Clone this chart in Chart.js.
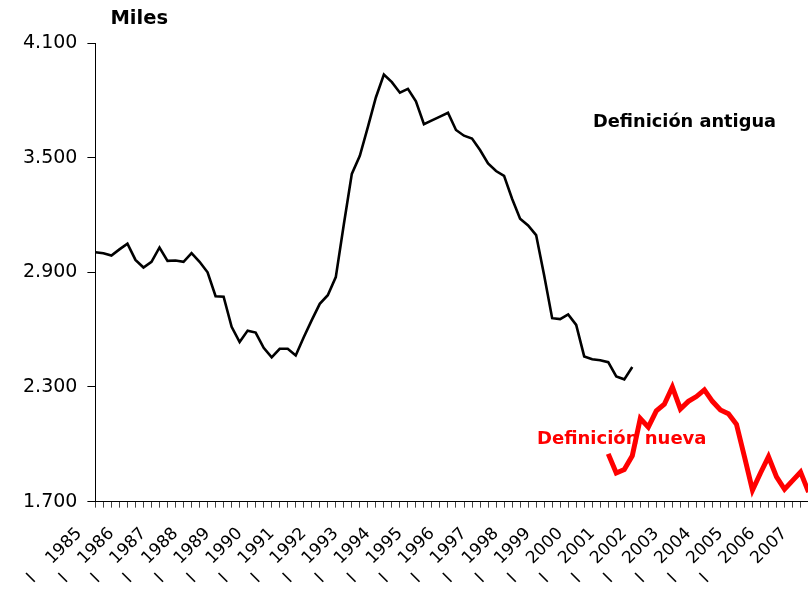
<!DOCTYPE html>
<html>
<head>
<meta charset="utf-8">
<script src="https://cdn.jsdelivr.net/npm/chart.js@4"></script>
<style>
    html, body { margin: 0; padding: 0; background: #fff; overflow: hidden; }
    #wrap { width: 839px; height: 590px; position: relative; }
</style>
</head>
<body>
<div id="wrap"><canvas id="milesChart"></canvas></div>
<script>
// quarterly series, 1985 Q1 .. 2007 Q2
const years = [1985, 1986, 1987, 1988, 1989, 1990, 1991, 1992, 1993, 1994, 1995, 1996,
               1997, 1998, 1999, 2000, 2001, 2002, 2003, 2004, 2005, 2006, 2007];
const quarters = ['I', 'II', 'III', 'IV'];

const oldDefinition = [
    3005, 3000, 2988, 3020, 3050, 2965, 2925, 2955, 3030, 2960, 2962, 2955,
    3000, 2955, 2900, 2775, 2772, 2615, 2535, 2595, 2585, 2505, 2455, 2500,
    2500, 2465, 2560, 2650, 2735, 2780, 2875, 3150, 3415, 3510, 3660, 3815,
    3935, 3895, 3840, 3860, 3795, 3675, 3695, 3715, 3735, 3645, 3615, 3600,
    3540, 3470, 3430, 3405, 3285, 3180, 3145, 3095, 2885, 2660, 2655, 2680,
    2625, 2460, 2445, 2440, 2430, 2355, 2340, 2405
];
const newDefinition = [
    1950, 1850, 1868, 1940, 2135, 2090, 2175, 2210, 2300, 2185, 2225, 2250,
    2285, 2225, 2180, 2160, 2105, 1935, 1760, 1850, 1935, 1830, 1765, 1810,
    1855, 1750
];
const newStart = 64;

const yTicks = [1700, 2300, 2900, 3500, 4100];

document.addEventListener('DOMContentLoaded', function() {
    initMilesChart();
});

function fmtThousands(v) {
    return String(v).replace(/\B(?=(\d{3})+(?!\d))/g, '.');
}

function initMilesChart() {
    const ctx = document.getElementById('milesChart');
    if (!ctx) return;

    const total = newStart + newDefinition.length;
    const labels = [];
    years.forEach(function(y) {
        quarters.forEach(function(q) { labels.push(q + ' ' + y); });
    });
    labels.length = total;

    const oldData = [];
    const newData = [];
    for (let i = 0; i < total; i++) {
        oldData.push(i < oldDefinition.length ? oldDefinition[i] : null);
        newData.push(i >= newStart ? newDefinition[i - newStart] : null);
    }

    const textLabels = {
        id: 'textLabels',
        afterDraw(chart) {
            const c = chart.ctx;
            const a = chart.chartArea;
            c.save();
            c.textAlign = 'left';
            c.textBaseline = 'alphabetic';
            c.fillStyle = '#000';
            c.font = 'bold 19.5px "DejaVu Sans"';
            c.fillText('Miles', a.left + 15, 24);
            c.font = 'bold 17.8px "DejaVu Sans"';
            c.fillText('Definición antigua', 593, 127);
            c.fillStyle = '#ff0000';
            c.font = 'bold 18px "DejaVu Sans"';
            c.fillText('Definición nueva', 537, 444);
            c.restore();
        }
    };

    new Chart(ctx, {
        type: 'line',
        data: {
            labels: labels,
            datasets: [{
                label: 'Definición antigua',
                data: oldData,
                borderColor: '#000',
                borderWidth: 2.6,
                pointRadius: 0,
                tension: 0,
                spanGaps: false
            }, {
                label: 'Definición nueva',
                data: newData,
                borderColor: '#ff0000',
                borderWidth: 5,
                pointRadius: 0,
                tension: 0,
                spanGaps: false
            }]
        },
        options: {
            responsive: true,
            maintainAspectRatio: false,
            animation: false,
            layout: {
                padding: { top: 43, right: 2, bottom: -13.5, left: 13 }
            },
            plugins: {
                legend: { display: false },
                tooltip: { enabled: false }
            },
            scales: {
                x: {
                    type: 'category',
                    offset: false,
                    border: { color: '#000', width: 1 },
                    grid: {
                        drawOnChartArea: false,
                        drawTicks: true,
                        tickLength: 6,
                        color: '#444'
                    },
                    ticks: {
                        autoSkip: false,
                        minRotation: 45,
                        maxRotation: 45,
                        padding: 16,
                        labelOffset: -16,
                        color: '#000',
                        font: { family: 'DejaVu Sans', size: 17 },
                        callback: function(value, index) {
                            if (index % 4 !== 0) return '';
                            const y = years[index / 4];
                            return y === 2007 ? String(y) : 'I    ' + y;
                        }
                    }
                },
                y: {
                    min: 1700,
                    max: 4100,
                    afterBuildTicks: function(axis) {
                        axis.ticks = yTicks.map(function(v) { return { value: v }; });
                    },
                    border: { color: '#000', width: 1 },
                    grid: {
                        drawOnChartArea: false,
                        drawTicks: true,
                        tickLength: 8,
                        color: '#000'
                    },
                    ticks: {
                        padding: 10,
                        color: '#000',
                        font: { family: 'DejaVu Sans', size: 19 },
                        callback: function(v) { return fmtThousands(v); }
                    }
                }
            }
        },
        plugins: [textLabels]
    });
}
</script>
</body>
</html>
